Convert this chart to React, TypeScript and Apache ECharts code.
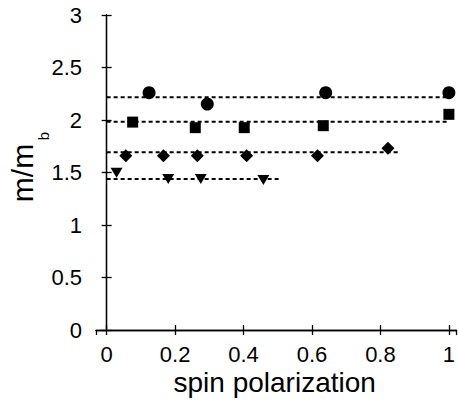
import React, { useEffect, useRef } from "react";
import * as echarts from "echarts";

// ---- data ----
const circleX = [0.124, 0.294, 0.64, 1.0];
const circleY = [2.26, 2.152, 2.26, 2.26];

const squareX = [0.076, 0.259, 0.402, 0.633, 1.0];
const squareY = [1.98, 1.927, 1.927, 1.946, 2.054];

const diamondX = [0.056, 0.166, 0.265, 0.409, 0.616, 0.822];
const diamondY = [1.66, 1.66, 1.66, 1.66, 1.66, 1.73];

const triangleX = [0.029, 0.18, 0.275, 0.458];
const triangleY = [1.498, 1.438, 1.438, 1.429];

// dashed horizontal fit levels and their extent
const fitLevels = [2.216, 1.984, 1.692, 1.438];
const fitStart = [0, 0, 0, 0];
const fitEnd = [1.0, 1.0, 0.855, 0.505];

const xTickLabels = ["0", "0.2", "0.4", "0.6", "0.8", "1"];
const yTickLabels = ["0", "0.5", "1", "1.5", "2", "2.5", "3"];

const xName = "spin polarization";
const yNameMain = "m/m";
const yNameSub = "b";

const FONT = "'Liberation Sans', Arial, Helvetica, sans-serif";

function zip(xs: number[], ys: number[]) {
  return xs.map((x, i) => [x, ys[i]]);
}

export default function App() {
  const ref = useRef<HTMLDivElement>(null);

  useEffect(() => {
    document.body.style.margin = "0";
    if (!ref.current) return;
    const chart = echarts.init(ref.current, null, { renderer: "svg" });

    const axisLineStyle = { color: "#000", width: 1.3 };
    const xFmt = (v: number) => {
      const idx = Math.round(v / 0.2);
      if (Math.abs(v - idx * 0.2) > 1e-6 || idx < 0 || idx >= xTickLabels.length) return "";
      return xTickLabels[idx];
    };
    const yFmt = (v: number) => {
      const idx = Math.round(v / 0.5);
      if (Math.abs(v - idx * 0.5) > 1e-6 || idx < 0 || idx >= yTickLabels.length) return "";
      return yTickLabels[idx];
    };

    const fitSeries = fitLevels.map((lv, i) => ({
      type: "line",
      xAxisIndex: 0,
      yAxisIndex: 0,
      data: [
        [fitStart[i], lv],
        [fitEnd[i], lv],
      ],
      symbol: "none",
      lineStyle: { color: "#000", width: 2, type: [4, 3], opacity: 1 },
      z: 2,
      silent: true,
    }));

    const markerBase = {
      type: "scatter",
      xAxisIndex: 0,
      yAxisIndex: 0,
      z: 5,
      itemStyle: { color: "#000", opacity: 1 },
      emphasis: { disabled: true },
    };

    chart.setOption({
      animation: false,
      grid: { left: 96, right: 0, top: 15, bottom: 71, containLabel: false },
      xAxis: [
        {
          type: "value",
          position: "bottom",
          min: -0.0311,
          max: 1.0224,
          splitNumber: 5,
          axisLine: { show: true, lineStyle: axisLineStyle },
          axisTick: { show: true, inside: true, length: 5, lineStyle: axisLineStyle },
          axisLabel: {
            show: true,
            margin: 13,
            fontSize: 22,
            fontFamily: FONT,
            color: "#000",
            showMinLabel: false,
            showMaxLabel: false,
            formatter: xFmt,
          },
          splitLine: { show: false },
        },
        {
          type: "value",
          position: "top",
          min: -0.0311,
          max: 1.0224,
          splitNumber: 5,
          axisLine: { show: true, lineStyle: axisLineStyle },
          axisTick: { show: true, inside: true, length: 5, lineStyle: axisLineStyle },
          axisLabel: { show: false },
          splitLine: { show: false },
        },
      ],
      yAxis: [
        {
          type: "value",
          position: "left",
          min: 0,
          max: 3,
          interval: 0.5,
          axisLine: { show: true, lineStyle: axisLineStyle },
          axisTick: { show: true, inside: true, length: 5, lineStyle: axisLineStyle },
          axisLabel: { show: true, margin: 14, fontSize: 22, fontFamily: FONT, color: "#000", formatter: yFmt },
          splitLine: { show: false },
        },
        {
          type: "value",
          position: "right",
          min: 0,
          max: 3,
          interval: 0.5,
          axisLine: { show: true, lineStyle: axisLineStyle },
          axisTick: { show: true, inside: true, length: 5, lineStyle: axisLineStyle },
          axisLabel: { show: false },
          splitLine: { show: false },
        },
      ],
      graphic: [
        {
          type: "text",
          x: 274.7,
          y: 382.3,
          style: {
            text: xName,
            fontSize: 28,
            fontFamily: FONT,
            fill: "#000",
            align: "center",
            verticalAlign: "middle",
          },
        },
        {
          type: "text",
          x: 22.6,
          y: 173,
          rotation: Math.PI / 2,
          style: {
            text: yNameMain,
            fontSize: 30,
            fontFamily: FONT,
            fill: "#000",
            align: "center",
            verticalAlign: "middle",
          },
        },
        {
          type: "text",
          x: 43.1,
          y: 136,
          rotation: Math.PI / 2,
          style: {
            text: yNameSub,
            fontSize: 15,
            fontFamily: FONT,
            fill: "#000",
            align: "center",
            verticalAlign: "middle",
          },
        },
      ],
      series: [
        ...fitSeries,
        { ...markerBase, name: "circle", symbol: "circle", symbolSize: 13, data: zip(circleX, circleY) },
        { ...markerBase, name: "square", symbol: "rect", symbolSize: 11, data: zip(squareX, squareY) },
        { ...markerBase, name: "diamond", symbol: "diamond", symbolSize: [13, 13], data: zip(diamondX, diamondY) },
        {
          ...markerBase,
          name: "triangle",
          symbol: "triangle",
          symbolRotate: 180,
          symbolSize: [12, 10],
          data: zip(triangleX, triangleY),
        },
      ],
    });

    return () => chart.dispose();
  }, []);

  return <div ref={ref} style={{ width: 458, height: 401 }} />;
}
